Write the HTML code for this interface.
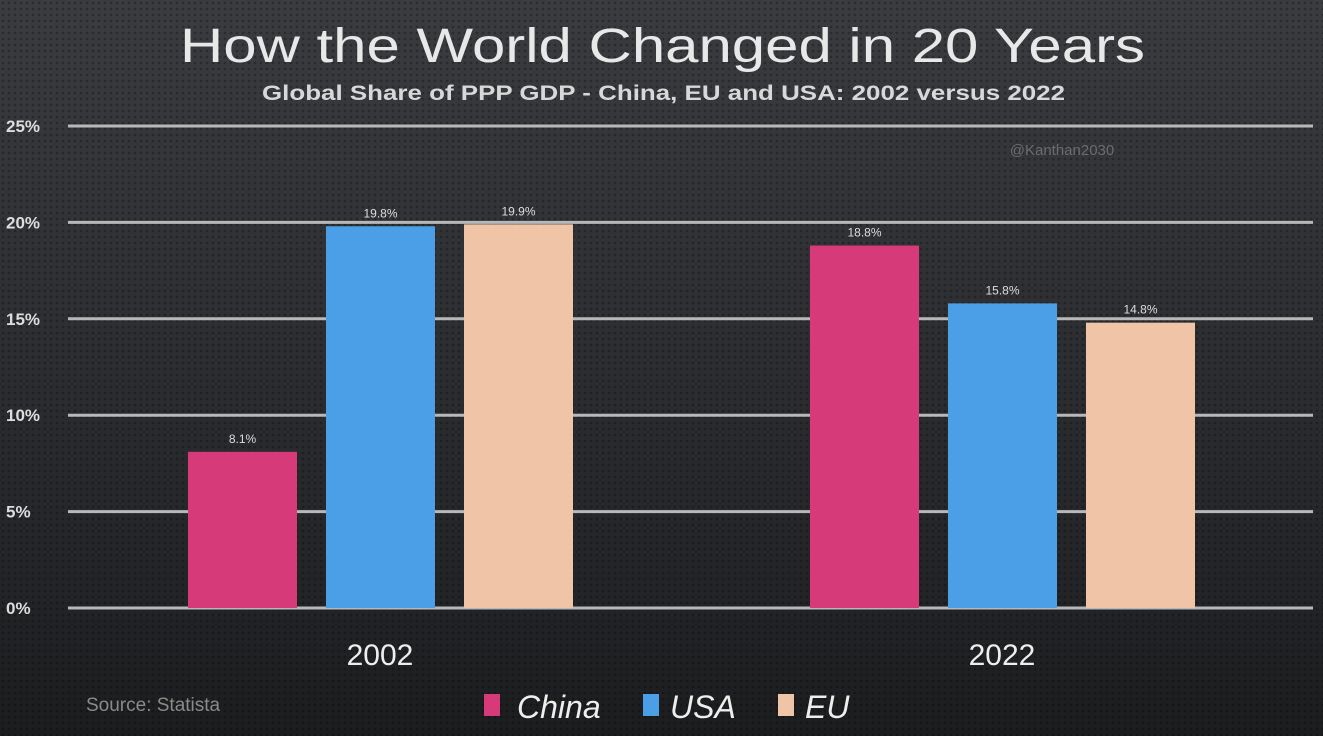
<!DOCTYPE html>
<html><head><meta charset="utf-8"><style>
html,body{margin:0;padding:0;}
body{width:1323px;height:736px;overflow:hidden;background:linear-gradient(#3a3c40 0%,#2e3034 40%,#232427 80%,#1c1d1f 100%);font-family:"Liberation Sans",sans-serif;}
svg{display:block;}
</style></head><body>
<svg id="chart" width="1323" height="736" xmlns="http://www.w3.org/2000/svg">
<defs><pattern id="dots" width="6" height="6" patternUnits="userSpaceOnUse"><circle cx="3" cy="3" r="1.4" fill="#000" opacity="0.25"/></pattern></defs>
<rect width="1323" height="736" fill="url(#dots)"/>
<text x="180" y="62" font-size="48" fill="#e8e8e8" textLength="965" lengthAdjust="spacingAndGlyphs">How the World Changed in 20 Years</text>
<text x="262" y="100" font-size="21" font-weight="bold" fill="#d8d8d8" textLength="803" lengthAdjust="spacingAndGlyphs">Global Share of PPP GDP - China, EU and USA: 2002 versus 2022</text>
<text x="1062" y="155" text-anchor="middle" font-size="15" fill="#6a6c70">@Kanthan2030</text>
<g id="grid"></g><g id="bars"></g>
<text x="86" y="711" font-size="19" fill="#8a8a8a">Source: Statista</text>
<g>
<rect x="484" y="694" width="16" height="22" fill="#d63a78"/>
<text x="517" y="718" font-size="32" font-style="italic" fill="#eee">China</text>
<rect x="643" y="694" width="16" height="22" fill="#4a9fe6"/>
<text x="670" y="718" font-size="32" font-style="italic" fill="#eee">USA</text>
<rect x="778" y="694" width="16" height="22" fill="#f0c4a6"/>
<text x="805" y="718" font-size="32" font-style="italic" fill="#eee">EU</text>
</g>
</svg>
<script>
const years = ["2002","2022"];
const series = ["China","USA","EU"];
const china = [8.1, 18.8];
const usa = [19.8, 15.8];
const eu = [19.9, 14.8];
const yTicks = [0,5,10,15,20,25];
const valueLabels = [["8.1%","18.8%"],["19.8%","15.8%"],["19.9%","14.8%"]];
const colors = ["#d63a78","#4a9fe6","#f0c4a6"];
const NS="http://www.w3.org/2000/svg";
const y0=608, y25=126;
function y(v){return y0-(y0-y25)*v/25;}
function groupX(i){return 188+i*622;}
function el(t,a,p){const e=document.createElementNS(NS,t);for(const k in a)e.setAttribute(k,a[k]);p.appendChild(e);return e;}
const grid=document.getElementById('grid'), bars=document.getElementById('bars');
yTicks.forEach(t=>{
  const l=el('line',{x1:68,x2:1313,y1:y(t),y2:y(t),stroke:'#b8b8b8','stroke-width':3},grid);
  
  
  const tx=el('text',{x:6,y:y(t)+6,'font-size':17,'font-weight':'bold',fill:'#ddd'},grid);
  tx.textContent=t+'%';
  
  
});
const data=[china,usa,eu];
years.forEach((yr,i)=>{
  data.forEach((s,j)=>{
    const x=groupX(i)+j*138;
    const r=el('rect',{x:x,y:y(s[i]),width:109,height:y0-y(s[i]),fill:colors[j]},bars);
    
    
    const t=el('text',{x:x+54.5,y:y(s[i])-9,'text-anchor':'middle','font-size':12,fill:'#ddd'},bars);
    t.textContent=valueLabels[j][i];
    
    
  });
  const xl=el('text',{x:groupX(i)+192,y:665,'text-anchor':'middle','font-size':30,fill:'#eee'},bars);
  xl.textContent=yr;
  
  
});
</script>
</body></html>
